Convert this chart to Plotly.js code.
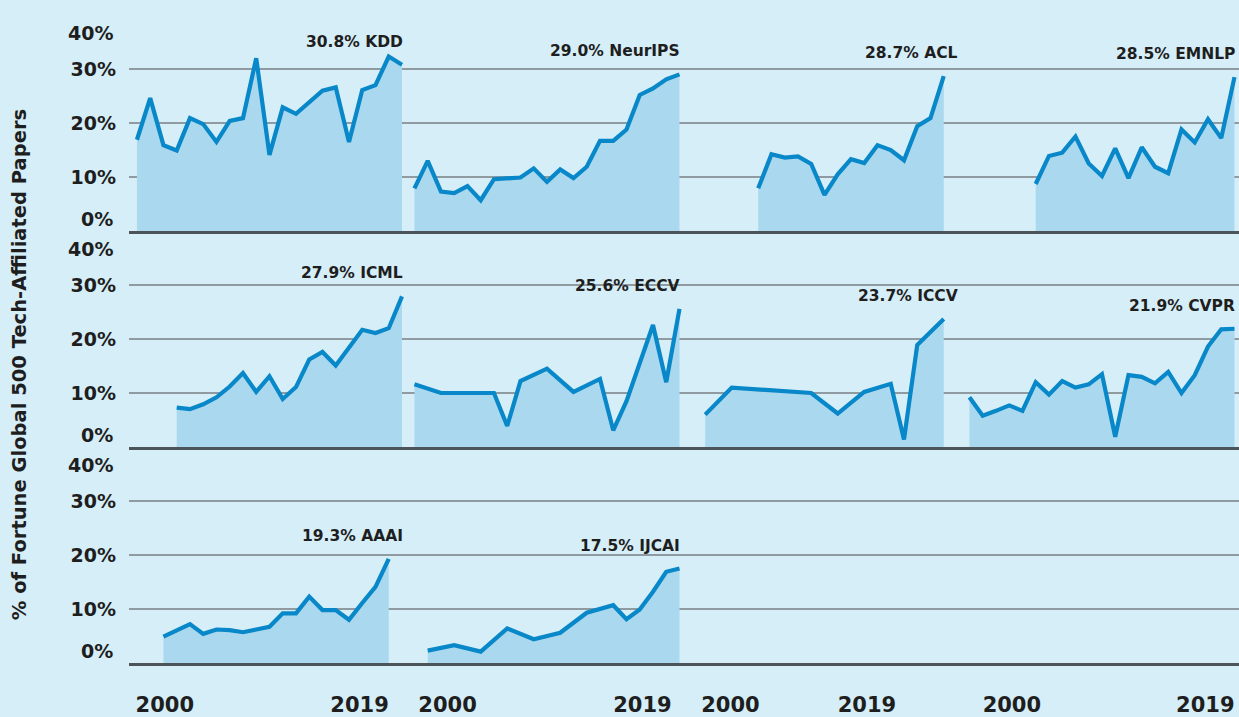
<!DOCTYPE html>
<html>
<head>
<meta charset="utf-8">
<script src="https://cdn.plot.ly/plotly-3.0.1.min.js"></script>
<style>html,body{margin:0;padding:0;background:#d6eef8;}</style>
</head>
<body>
<div id="chart" style="width:1239px;height:717px;"></div>
<script>
// ---- data (percent of Fortune Global 500 tech-affiliated papers) ----
const kddYears = [2000,2001,2002,2003,2004,2005,2006,2007,2008,2009,2010,2011,2012,2013,2014,2015,2016,2017,2018,2019,2020];
const kddValues = [16.9,24.6,15.9,14.9,20.9,19.8,16.5,20.4,20.9,32.0,14.1,22.9,21.7,23.9,26.0,26.6,16.5,26.1,27.0,32.3,30.8];

const neuripsYears = [2000,2001,2002,2003,2004,2005,2006,2007,2008,2009,2010,2011,2012,2013,2014,2015,2016,2017,2018,2019,2020];
const neuripsValues = [7.9,13.0,7.3,7.0,8.3,5.7,9.6,9.8,9.9,11.6,9.1,11.4,9.8,11.9,16.7,16.7,18.8,25.2,26.4,28.1,29.0];

const aclYears = [2005,2006,2007,2008,2009,2010,2011,2012,2013,2014,2015,2016,2017,2018,2019];
const aclValues = [7.9,14.2,13.6,13.8,12.4,6.7,10.5,13.3,12.6,15.9,15.0,13.1,19.4,20.9,28.7];

const emnlpYears = [2005,2006,2007,2008,2009,2010,2011,2012,2013,2014,2015,2016,2017,2018,2019,2020];
const emnlpValues = [8.7,13.9,14.5,17.5,12.5,10.2,15.3,9.8,15.5,11.9,10.7,18.8,16.4,20.7,17.2,28.5];

const icmlYears = [2003,2004,2005,2006,2007,2008,2009,2010,2011,2012,2013,2014,2015,2016,2017,2018,2019,2020];
const icmlValues = [7.3,7.0,7.9,9.2,11.2,13.7,10.2,13.1,8.9,11.1,16.2,17.6,15.1,18.4,21.7,21.1,22.0,27.9];

const eccvYears = [2000,2002,2006,2007,2008,2010,2012,2014,2015,2016,2018,2019,2020];
const eccvValues = [11.6,10.0,10.0,3.9,12.2,14.5,10.2,12.6,3.1,8.5,22.6,12.0,25.6];

const iccvYears = [2001,2003,2009,2011,2013,2015,2016,2017,2019];
const iccvValues = [6.0,11.0,10.0,6.2,10.2,11.7,1.4,18.9,23.7];

const cvprYears = [2000,2001,2002,2003,2004,2005,2006,2007,2008,2009,2010,2011,2012,2013,2014,2015,2016,2017,2018,2019,2020];
const cvprValues = [9.2,5.8,6.7,7.7,6.7,12.0,9.7,12.2,11.0,11.6,13.5,1.9,13.3,13.0,11.8,13.9,10.0,13.3,18.6,21.8,21.9];

const aaaiYears = [2002,2003,2004,2005,2006,2007,2008,2009,2010,2011,2012,2013,2014,2015,2016,2017,2018,2019];
const aaaiValues = [4.9,6.0,7.2,5.4,6.2,6.1,5.7,6.2,6.7,9.2,9.2,12.3,9.8,9.8,8.0,11.1,14.1,19.3];

const ijcaiYears = [2001,2003,2005,2007,2009,2011,2013,2015,2016,2017,2018,2019,2020];
const ijcaiValues = [2.3,3.3,2.1,6.4,4.4,5.6,9.3,10.7,8.1,9.9,13.2,16.9,17.5];

// panel order: row by row, 4 columns
const conferenceNames = ['KDD','NeurIPS','ACL','EMNLP','ICML','ECCV','ICCV','CVPR','AAAI','IJCAI'];
const conferenceYears = [kddYears,neuripsYears,aclYears,emnlpYears,icmlYears,eccvYears,iccvYears,cvprYears,aaaiYears,ijcaiYears];
const conferenceValues = [kddValues,neuripsValues,aclValues,emnlpValues,icmlValues,eccvValues,iccvValues,cvprValues,aaaiValues,ijcaiValues];

// axis labels
const yTickVals = [0,10,20,30,40];
const yTickText = ['','10%','20%','30%',''];
const xTickText = ['2000','2019'];
const xTickPosByColumn = [[2002.1,2016.8],[2002.5,2017.2],[2002.9,2013.2],[2003.2,2017.8]];
const yAxisTitle = '% of Fortune Global 500 Tech-Affiliated Papers';

// ---- styling ----
const BG = '#d6eef8';
const LINE = '#0887c9';
const FILL = '#aad9ef';
const GRID = '#8f9ba1';
const BASE = '#4b5459';
const TXT = '#1e1e1e';
const FONT = 'DejaVu Sans';

const NROWS = 3, NCOLS = 4;
const traces = [];
const layout = {
  width: 1239, height: 717,
  margin: {l: 129, r: 0, t: 15, b: 54},
  paper_bgcolor: BG, plot_bgcolor: BG,
  showlegend: false,
  annotations: [],
  font: {family: FONT, color: TXT}
};

for (let r = 0; r < NROWS; r++) {
  for (let c = 0; c < NCOLS; c++) {
    const n = r * NCOLS + c + 1;
    const xs = n === 1 ? '' : String(n);
    const xName = 'xaxis' + xs, yName = 'yaxis' + xs;
    layout[xName] = {
      domain: [c / NCOLS, (c + 1) / NCOLS],
      anchor: 'y' + xs,
      range: [1999.4, 2020.34],
      showgrid: false, zeroline: false,
      showline: true, linecolor: BASE, linewidth: 3,
      ticks: '',
      tickmode: 'array',
      tickvals: xTickPosByColumn[c],
      ticktext: xTickText,
      showticklabels: r === NROWS - 1,
      tickfont: {family: FONT, size: 21, color: TXT, weight: 'bold'},
      ticklabelstandoff: 21,
      fixedrange: true
    };
    layout[yName] = {
      domain: [(NROWS - 1 - r) / NROWS, (NROWS - r) / NROWS],
      anchor: 'x' + xs,
      range: [0, 40],
      tickmode: 'array',
      tickvals: yTickVals,
      ticktext: yTickText,
      showticklabels: c === 0,
      showgrid: true, gridcolor: GRID, gridwidth: 1.5,
      zeroline: false, showline: false,
      ticks: '',
      tickfont: {family: FONT, size: 19, color: TXT, weight: 'bold'},
      ticklabelstandoff: 12,
      fixedrange: true
    };
    if (c === 0) {
      layout.annotations.push({
        xref: 'x' + xs + ' domain', x: 0, xanchor: 'right', xshift: -14,
        yref: 'y' + xs, y: 0, yanchor: 'middle', yshift: 12.5,
        text: '0%', showarrow: false,
        font: {family: FONT, size: 19, color: TXT, weight: 'bold'}
      });
      layout.annotations.push({
        xref: 'x' + xs + ' domain', x: 0, xanchor: 'right', xshift: -14,
        yref: 'y' + xs, y: 40, yanchor: 'middle', yshift: -17.5,
        text: '40%', showarrow: false,
        font: {family: FONT, size: 19, color: TXT, weight: 'bold'}
      });
    }
    const idx = n - 1;
    if (idx < conferenceNames.length) {
      const ys = conferenceValues[idx];
      traces.push({
        type: 'scatter', mode: 'lines',
        x: conferenceYears[idx], y: ys,
        xaxis: 'x' + xs, yaxis: 'y' + xs,
        fill: 'tozeroy', fillcolor: FILL,
        line: {color: LINE, width: 4.2, shape: 'linear'},
        hoverinfo: 'skip'
      });
      const last = ys[ys.length - 1];
      layout.annotations.push({
        xref: 'x' + xs + ' domain', x: 1, xanchor: 'right', xshift: -2,
        yref: 'y' + xs, y: last, yanchor: 'middle', yshift: 23,
        text: last.toFixed(1) + '% ' + conferenceNames[idx],
        showarrow: false,
        font: {family: FONT, size: 15.5, color: TXT, weight: 'bold'}
      });
    } else {
      traces.push({
        type: 'scatter', mode: 'lines', x: [], y: [],
        xaxis: 'x' + xs, yaxis: 'y' + xs, hoverinfo: 'skip'
      });
    }
  }
}

layout.annotations.push({
  xref: 'paper', x: -0.098, xanchor: 'center',
  yref: 'paper', y: 0.46, yanchor: 'middle',
  text: yAxisTitle, textangle: -90, showarrow: false,
  font: {family: FONT, size: 19.5, color: TXT, weight: 'bold'}
});

Plotly.newPlot('chart', traces, layout, {displayModeBar: false, staticPlot: true});
</script>
</body>
</html>
